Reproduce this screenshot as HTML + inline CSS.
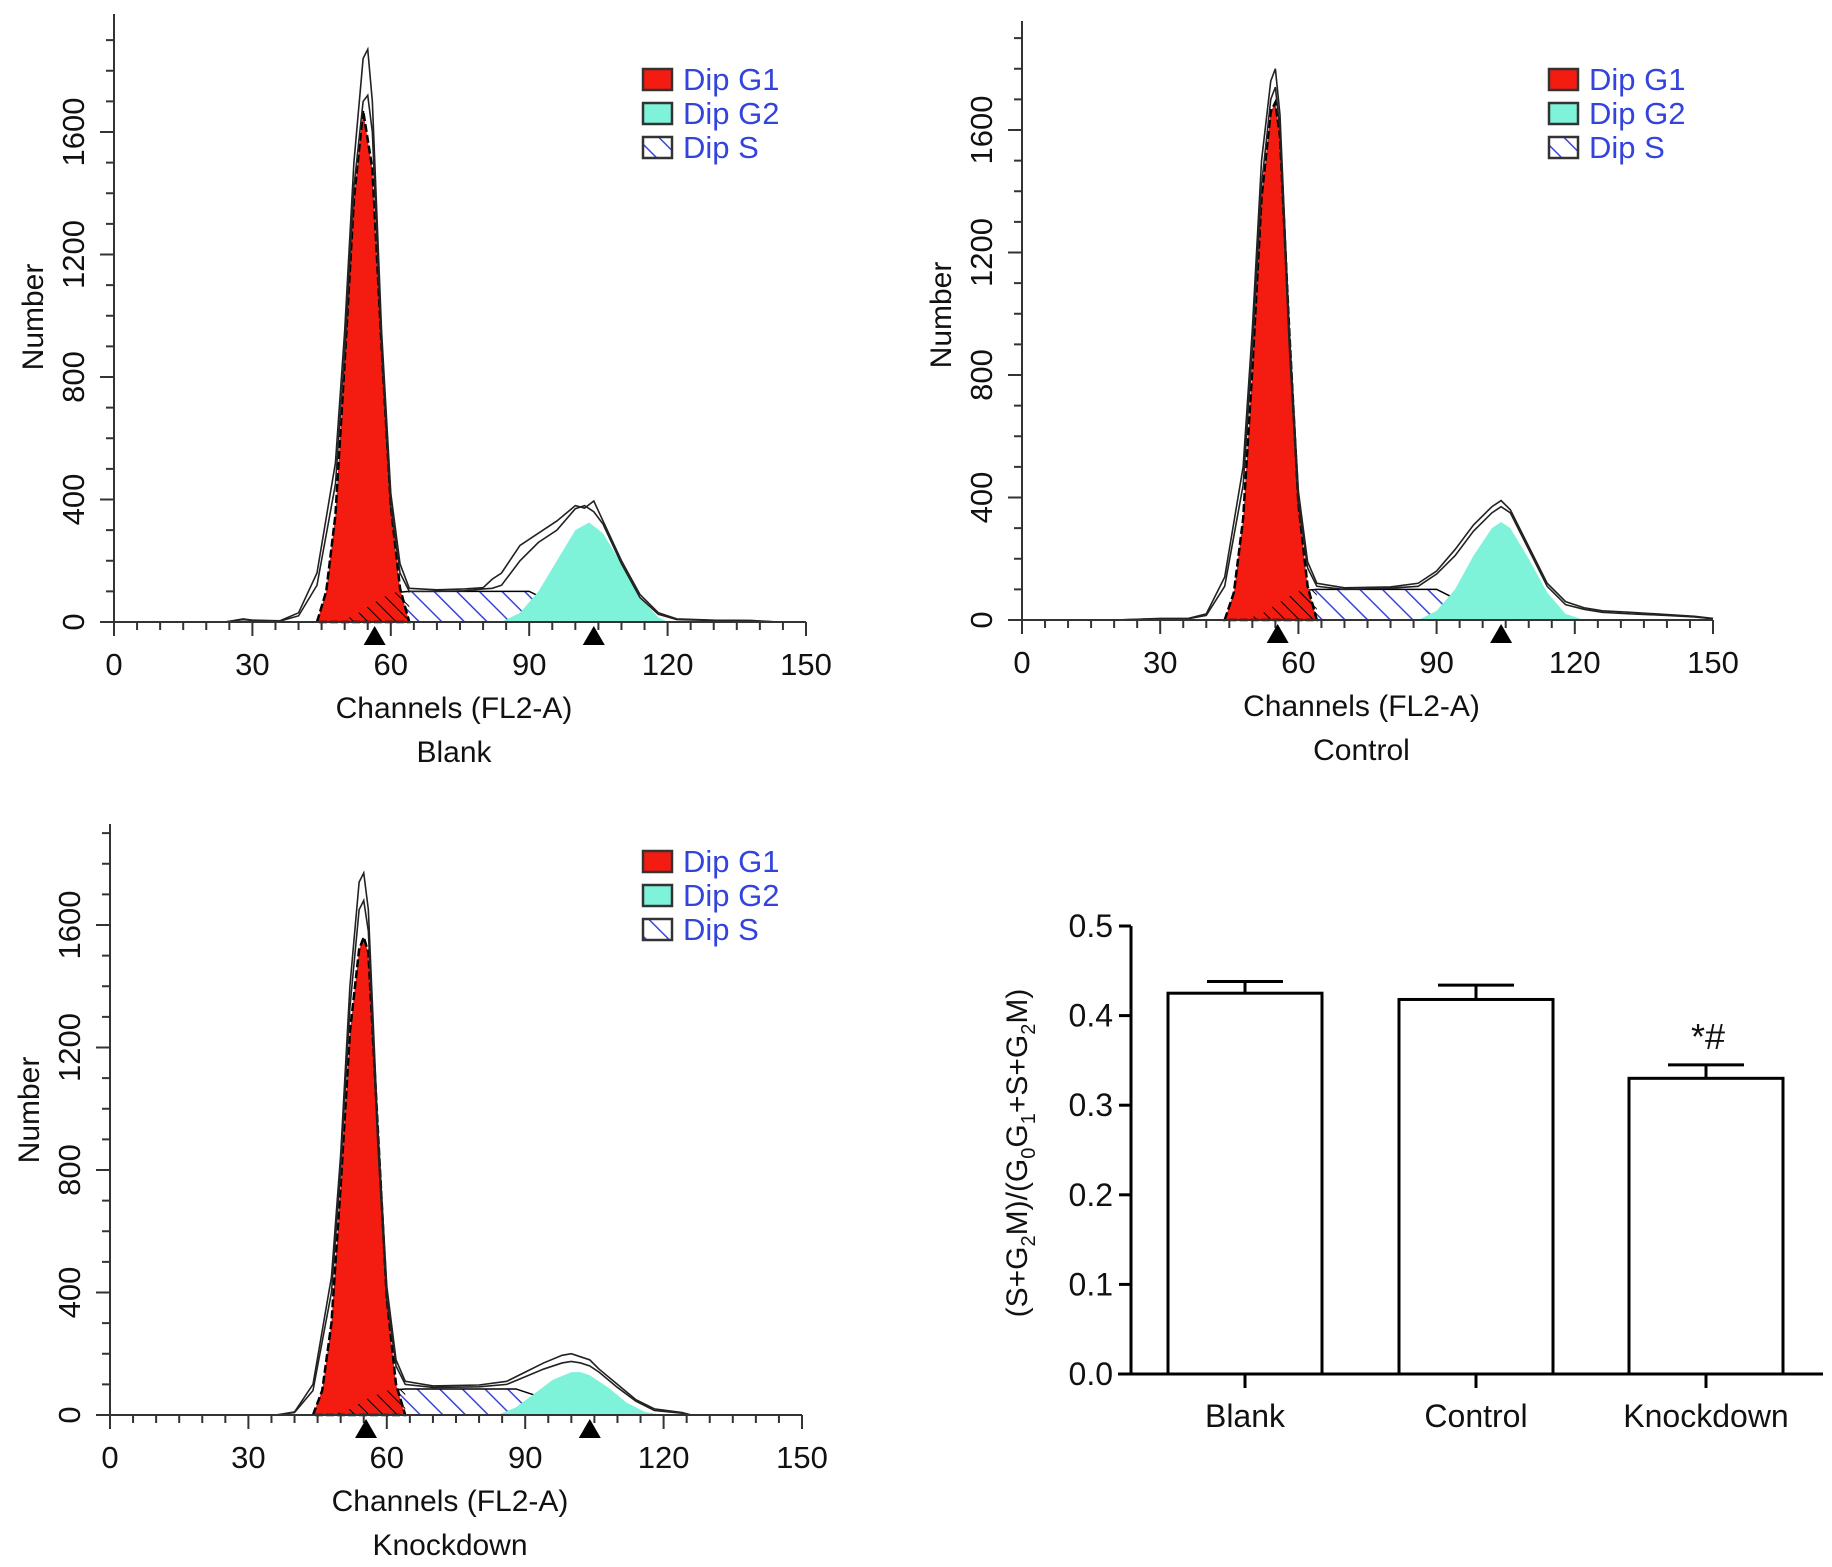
<!DOCTYPE html>
<html><head><meta charset="utf-8"><style>
html,body{margin:0;padding:0;background:#fff;}
svg{display:block;font-family:"Liberation Sans",Arial,sans-serif;}
</style></head><body>
<svg id="fig" width="1832" height="1567" viewBox="0 0 1832 1567" xmlns="http://www.w3.org/2000/svg">
<defs>
<pattern id="hatch" patternUnits="userSpaceOnUse" width="16" height="16" patternTransform="rotate(-45)">
<rect width="16" height="16" fill="#fff"/><line x1="0" y1="0" x2="0" y2="16" stroke="#3b45d8" stroke-width="3"/>
</pattern>
<pattern id="hatchR" patternUnits="userSpaceOnUse" width="10" height="10" patternTransform="rotate(-45)">
<line x1="0" y1="0" x2="0" y2="10" stroke="#000" stroke-width="2"/>
</pattern>
</defs>
</svg>
<script>
const NS='http://www.w3.org/2000/svg';
const svg=document.getElementById('fig');
function mk(tag,attrs,parent,text){const e=document.createElementNS(NS,tag);for(const k in attrs)e.setAttribute(k,attrs[k]);if(text!==undefined)e.textContent=text;(parent||svg).appendChild(e);return e;}

// ---------- histogram data ----------
const xTicks=[0,30,60,90,120,150];
const yTicks=[0,400,800,1200,1600];
const legendLabels=['Dip G1','Dip G2','Dip S'];
const panelTitles=['Blank','Control','Knockdown'];

const blankG1Ch=[44,46,48,50,52,54,56,58,60,62,64];
const blankG1=[0,100,350,850,1380,1670,1480,900,380,110,0];
const blankSCh=[48,52,56,60,64,70,80,90,94,98,102,106];
const blankS=[0,20,60,95,100,100,100,100,70,40,15,0];
const blankG2Ch=[84,88,92,96,100,103,106,110,114,118,120];
const blankG2=[0,30,100,200,300,325,290,190,80,15,0];
const blankRawCh=[24,28,30,36,40,44,48,50,52,54,55,56,58,60,62,64,70,76,80,82,84,88,92,96,100,102,104,106,110,114,118,122,130,138,144];
const blankRawA=[0,10,6,4,30,160,520,950,1500,1840,1870,1700,950,420,190,110,105,108,112,140,160,250,290,330,380,372,395,330,200,90,30,10,6,5,0];
const blankRawB=[0,8,5,3,20,120,450,880,1420,1700,1720,1600,900,380,160,100,100,102,108,110,120,200,260,300,370,380,360,320,190,80,25,8,5,4,0];
const blankMarks=[56.5,104];

const ctrlG1Ch=[44,46,48,50,52,54,55,56,58,60,62,64];
const ctrlG1=[0,90,330,820,1380,1660,1690,1580,950,380,110,0];
const ctrlSCh=[48,52,56,60,64,70,80,90,94,98,102,106];
const ctrlS=[0,20,60,95,100,100,100,100,70,40,15,0];
const ctrlG2Ch=[86,90,94,98,102,104,106,110,114,118,122];
const ctrlG2=[0,30,100,210,300,320,300,200,90,20,0];
const ctrlRawCh=[20,30,36,40,44,48,50,52,54,55,56,58,60,62,64,70,80,86,90,94,98,102,104,106,110,114,118,122,126,132,140,146,150];
const ctrlRawA=[0,5,5,20,140,500,950,1500,1760,1800,1650,950,420,190,120,105,108,120,160,230,310,370,390,360,240,120,60,40,30,25,18,12,5];
const ctrlRawB=[0,4,4,15,110,440,880,1420,1700,1740,1600,900,380,170,110,100,104,110,150,210,290,350,370,350,230,110,50,35,25,20,15,10,4];
const ctrlMarks=[55.5,104];

const kdG1Ch=[44,46,48,50,52,54,55,56,58,60,62,64];
const kdG1=[0,80,300,750,1250,1520,1560,1510,950,380,100,0];
const kdSCh=[48,52,56,60,64,70,80,88,92,96,100,104];
const kdS=[0,20,55,80,85,85,85,85,65,40,15,0];
const kdG2Ch=[84,88,92,96,100,102,104,108,112,116,120];
const kdG2=[0,25,70,115,140,140,130,90,40,10,0];
const kdRawCh=[36,40,44,48,50,52,54,55,56,58,60,62,64,70,80,86,90,94,98,100,102,104,106,110,114,118,124,126];
const kdRawA=[0,10,100,450,850,1400,1740,1770,1650,950,420,180,110,95,98,110,140,170,195,200,190,180,150,100,50,20,8,0];
const kdRawB=[0,8,80,400,800,1330,1650,1680,1580,900,380,160,100,90,92,100,125,150,170,175,170,160,140,90,45,15,6,0];
const kdMarks=[55.5,104];

// ---------- bar chart data ----------
const barCats=['Blank','Control','Knockdown'];
const barVals=[0.425,0.418,0.330];
const barErr=[0.013,0.016,0.015];
const barTicks=[0.0,0.1,0.2,0.3,0.4,0.5];
const barTickLabels=['0.0','0.1','0.2','0.3','0.4','0.5'];
const barAnnot=['','','*#'];

function drawHist(p,d){
  const g=mk('g',{});
  
  
  const X=c=>p.x0+(p.x150-p.x0)*c/150;
  const ppu=490/1600;
  const Y=v=>p.y0-v*ppu;
  const area=(ch,vals)=>{let s='M'+X(ch[0])+','+p.y0;ch.forEach((c,i)=>s+=' L'+X(c)+','+Y(vals[i]));return s+' L'+X(ch[ch.length-1])+','+p.y0+' Z';};
  const line=(ch,vals)=>{let s='';ch.forEach((c,i)=>s+=(i?' L':'M')+X(c)+','+Y(vals[i]));return s;};
  let e=mk('path',{d:area(d.sCh,d.s),fill:'url(#hatch)',stroke:'#000','stroke-width':1.5},g);
  
  e=mk('path',{d:area(d.g1Ch,d.g1),fill:'#f41c10',stroke:'#000','stroke-width':2.5,'stroke-dasharray':'8,3'},g);
  
  e=mk('path',{d:area(d.sCh.filter(c=>c<=64),d.s.filter((v,i)=>d.sCh[i]<=64)),fill:'url(#hatchR)',stroke:'none'},g);
  
  e=mk('path',{d:area(d.g2Ch,d.g2),fill:'#7ff3da',stroke:'none'},g);
  
  e=mk('path',{d:line(d.rawCh,d.rawA),fill:'none',stroke:'#222','stroke-width':1.6},g);
  
  e=mk('path',{d:line(d.rawCh,d.rawB),fill:'none',stroke:'#222','stroke-width':1.6},g);
  
  e=mk('line',{x1:p.x0,y1:p.top,x2:p.x0,y2:p.y0,stroke:'#333','stroke-width':2},g);
  
  e=mk('line',{x1:p.x0-4,y1:p.y0,x2:X(150),y2:p.y0,stroke:'#333','stroke-width':2},g);
  
  for(let c=0;c<=150;c+=5){const maj=c%30===0;mk('line',{x1:X(c),y1:p.y0,x2:X(c),y2:p.y0+(maj?14:8),stroke:'#333','stroke-width':2},g);}
  for(let v=0;v<=1900;v+=100){const maj=v%400===0;mk('line',{x1:p.x0,y1:Y(v),x2:p.x0-(maj?14:8),y2:Y(v),stroke:'#333','stroke-width':2},g);}
  xTicks.forEach(t=>{const tx=mk('text',{x:X(t),y:p.y0+53,'font-size':31,'text-anchor':'middle',fill:'#111'},g,String(t));
    });
  yTicks.forEach(t=>{const tx=mk('text',{x:0,y:0,'font-size':31,'text-anchor':'middle',fill:'#111',transform:`translate(${p.x0-30},${Y(t)}) rotate(-90)`},g,String(t));
    });
  d.marks.forEach(m=>{const t=mk('path',{d:`M${X(m)-11},${p.y0+23} L${X(m)+11},${p.y0+23} L${X(m)},${p.y0+4} Z`,fill:'#000'},g);
    });
  let t=mk('text',{x:(p.x0+X(150))/2-6,y:p.y0+96,'font-size':30,'text-anchor':'middle',fill:'#111'},g,'Channels (FL2-A)');
  
  t=mk('text',{x:(p.x0+X(150))/2-6,y:p.y0+140,'font-size':30,'text-anchor':'middle',fill:'#111'},g,p.title);
  
  t=mk('text',{x:0,y:0,'font-size':30,'text-anchor':'middle',fill:'#111',transform:`translate(${p.x0-71},${p.y0-305}) rotate(-90)`},g,'Number');
  
  const fills=['#f41c10','#7ff3da','url(#hatch)'];
  legendLabels.forEach((l,i)=>{const cy=p.legY+i*34;
    const r=mk('rect',{x:p.legX,y:cy-10,width:29,height:21,fill:fills[i],stroke:'#333','stroke-width':2.5},g);
    
    const tx=mk('text',{x:p.legX+40,y:cy+11,'font-size':31,fill:'#3344dd'},g,l);
    });
}

drawHist({name:'histogram-blank',x0:114,x150:806,y0:622,top:14,title:panelTitles[0],legX:643,legY:79},
  {g1Ch:blankG1Ch,g1:blankG1,sCh:blankSCh,s:blankS,g2Ch:blankG2Ch,g2:blankG2,rawCh:blankRawCh,rawA:blankRawA,rawB:blankRawB,marks:blankMarks});
drawHist({name:'histogram-control',x0:1022,x150:1713,y0:620,top:21,title:panelTitles[1],legX:1549,legY:79},
  {g1Ch:ctrlG1Ch,g1:ctrlG1,sCh:ctrlSCh,s:ctrlS,g2Ch:ctrlG2Ch,g2:ctrlG2,rawCh:ctrlRawCh,rawA:ctrlRawA,rawB:ctrlRawB,marks:ctrlMarks});
drawHist({name:'histogram-knockdown',x0:110,x150:802,y0:1415,top:824,title:panelTitles[2],legX:643,legY:861},
  {g1Ch:kdG1Ch,g1:kdG1,sCh:kdSCh,s:kdS,g2Ch:kdG2Ch,g2:kdG2,rawCh:kdRawCh,rawA:kdRawA,rawB:kdRawB,marks:kdMarks});

(function(){
  const g=mk('g',{});
  
  
  const ax=1131,y0=1374,yTop=926;
  const Y=v=>y0-(y0-yTop)*v/0.5;
  const centers=[1245,1476,1706],bw=154;
  barVals.forEach((v,i)=>{
    const cx=centers[i];
    let e=mk('line',{x1:cx,y1:Y(v),x2:cx,y2:Y(v+barErr[i]),stroke:'#000','stroke-width':3},g);
    
    e=mk('line',{x1:cx-38,y1:Y(v+barErr[i]),x2:cx+38,y2:Y(v+barErr[i]),stroke:'#000','stroke-width':3},g);
    
    e=mk('rect',{x:cx-bw/2,y:Y(v),width:bw,height:y0-Y(v),fill:'#fff',stroke:'#000','stroke-width':3},g);
    
    e=mk('line',{x1:cx,y1:y0,x2:cx,y2:y0+14,stroke:'#000','stroke-width':3},g);
    
    e=mk('text',{x:cx,y:y0+53,'font-size':32,'text-anchor':'middle',fill:'#111'},g,barCats[i]);
    
    if(barAnnot[i]){e=mk('text',{x:cx+2,y:Y(v+barErr[i])-16,'font-size':36,'text-anchor':'middle',fill:'#111'},g,barAnnot[i]);
      }
  });
  let e=mk('line',{x1:ax,y1:yTop,x2:ax,y2:y0,stroke:'#000','stroke-width':3},g);
  
  e=mk('line',{x1:1118,y1:y0,x2:1823,y2:y0,stroke:'#000','stroke-width':3},g);
  
  barTicks.forEach((t,i)=>{
    mk('line',{x1:ax-12,y1:Y(t),x2:ax,y2:Y(t),stroke:'#000','stroke-width':3},g);
    const tx=mk('text',{x:ax-18,y:Y(t)+11,'font-size':32,'text-anchor':'end',fill:'#111'},g,barTickLabels[i]);
    
  });
  const t=mk('text',{x:0,y:0,'font-size':30,'text-anchor':'middle',fill:'#111',transform:'translate(1027,1153) rotate(-90)'},g);
  
  const parts=[['(S+G',0],['2',1],['M)/(G',0],['0',1],['G',0],['1',1],['+S+G',0],['2',1],['M)',0]];
  parts.forEach(([s,sub])=>{mk('tspan',sub?{'font-size':20,dy:8}:{dy:0},t,s);});
  const spans=t.querySelectorAll('tspan');spans.forEach((s,i)=>{if(i>0&&parts[i-1][1]&&!parts[i][1])s.setAttribute('dy',-8);});
})();
</script>
</body></html>
